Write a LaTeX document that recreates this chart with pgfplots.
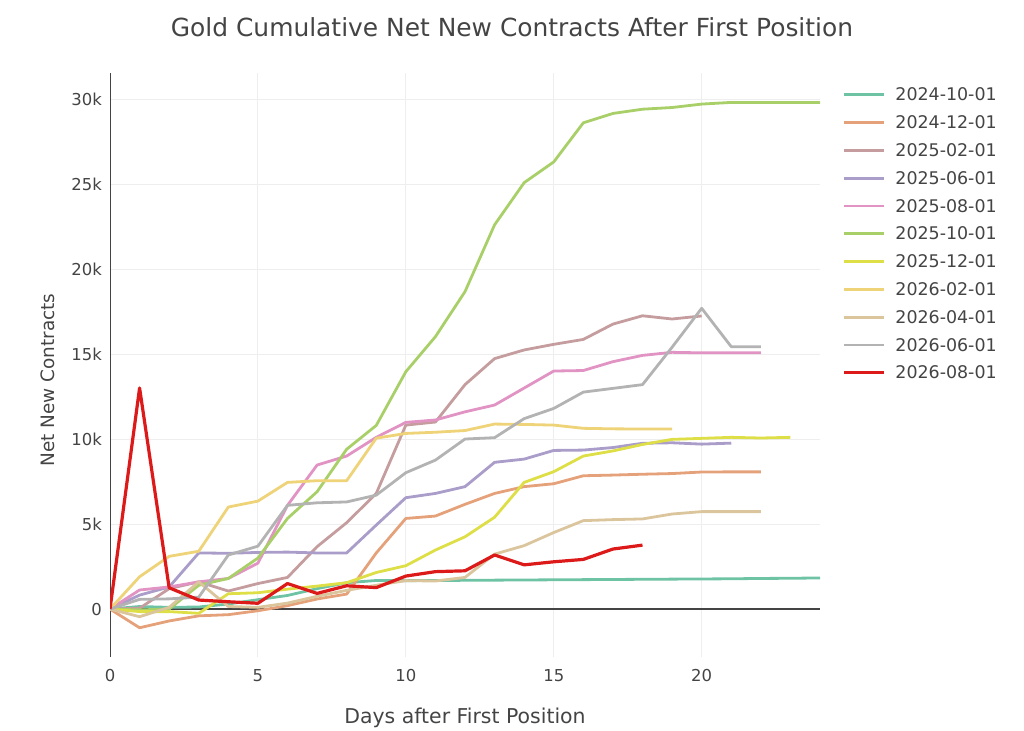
\documentclass[border=0pt]{standalone}
\usepackage{fontspec}
\setmainfont{DejaVu Sans}
\usepackage{pgfplots}
\pgfplotsset{compat=1.18}
\definecolor{txt}{HTML}{444444}
\definecolor{gridc}{HTML}{EEEEEE}
\definecolor{cA}{HTML}{6FC3A5}
\definecolor{cB}{HTML}{E5A179}
\definecolor{cC}{HTML}{C59D9E}
\definecolor{cD}{HTML}{AB9DC9}
\definecolor{cE}{HTML}{E194C3}
\definecolor{cF}{HTML}{A9CF69}
\definecolor{cG}{HTML}{DEDE47}
\definecolor{cH}{HTML}{EED378}
\definecolor{cI}{HTML}{DBC59D}
\definecolor{cJ}{HTML}{B3B3B3}
\definecolor{cK}{HTML}{DD1A1A}
\begin{document}
\begin{tikzpicture}[x=1bp,y=1bp]
\path[use as bounding box] (0bp,0bp) rectangle (1024bp,731bp);
\begin{axis}[
  at={(110bp,74bp)}, anchor=south west,
  width=710bp, height=584bp, scale only axis,
  xmin=0, xmax=24, ymin=-2820, ymax=31530,
  xtick={0,5,10,15,20},
  ytick={0,5000,10000,15000,20000,25000,30000},
  yticklabels={0,5k,10k,15k,20k,25k,30k},
  scaled y ticks=false,
  extra y ticks={0}, extra y tick labels={},
  extra y tick style={grid=major, major grid style={draw=txt, line width=1.3bp}},
  grid=major, major grid style={draw=gridc, line width=1bp},
  axis x line*=bottom, axis y line*=left, axis line style={-},
  x axis line style={draw=none},
  y axis line style={draw=txt, line width=1bp},
  tick style={draw=none},
  /pgf/number format/assume math mode=true,
  ticklabel style={font=\fontsize{16.5}{19}\selectfont, text=txt, inner sep=0pt},
  xticklabel style={anchor=north, yshift=-12bp},
  yticklabel style={anchor=east, xshift=-8bp},
  every axis plot/.append style={line width=2.8bp, line join=round},
  legend style={at={(axis description cs:1.031,0.974)}, anchor=north west,
    draw=none, fill=none, inner sep=0pt,
    font=\fontsize{17.5}{20}\selectfont, text=txt,
    nodes={inner sep=0pt, text height=12.5bp, text depth=3bp, anchor=base west},
    row sep=12.3bp,
    /tikz/every odd column/.append style={column sep=10bp}},
  legend cell align=left,
  legend image code/.code={\draw[#1] (0bp,6bp) -- (40bp,6bp);},
]
\addplot[cA] coordinates {(0,0)(1,150)(2,100)(3,120)(4,300)(5,550)(6,800)(7,1200)(8,1550)(9,1680)(10,1670)(11,1680)(12,1690)(13,1700)(14,1710)(15,1720)(16,1730)(17,1740)(18,1750)(19,1760)(20,1770)(21,1780)(22,1800)(23,1810)(24,1830)};
\addlegendentry{2024-10-01}
\addplot[cB] coordinates {(0,0)(1,-1100)(2,-700)(3,-400)(4,-330)(5,-100)(6,200)(7,590)(8,880)(9,3300)(10,5330)(11,5470)(12,6160)(13,6800)(14,7200)(15,7370)(16,7840)(17,7880)(18,7930)(19,7970)(20,8060)(21,8070)(22,8070)};
\addlegendentry{2024-12-01}
\addplot[cC] coordinates {(0,0)(1,50)(2,1200)(3,1600)(4,1060)(5,1500)(6,1860)(7,3670)(8,5080)(9,6800)(10,10820)(11,11000)(12,13200)(13,14730)(14,15240)(15,15570)(16,15860)(17,16760)(18,17250)(19,17060)(20,17240)};
\addlegendentry{2025-02-01}
\addplot[cD] coordinates {(0,0)(1,820)(2,1300)(3,3300)(4,3280)(5,3330)(6,3350)(7,3300)(8,3300)(9,4940)(10,6550)(11,6800)(12,7200)(13,8630)(14,8820)(15,9330)(16,9350)(17,9500)(18,9750)(19,9780)(20,9700)(21,9760)};
\addlegendentry{2025-06-01}
\addplot[cE] coordinates {(0,0)(1,1120)(2,1300)(3,1600)(4,1800)(5,2700)(6,6100)(7,8470)(8,9000)(9,10100)(10,10980)(11,11120)(12,11600)(13,12000)(14,13000)(15,14000)(16,14030)(17,14550)(18,14920)(19,15100)(20,15070)(21,15070)(22,15070)};
\addlegendentry{2025-08-01}
\addplot[cF] coordinates {(0,0)(1,-50)(2,0)(3,1400)(4,1800)(5,3000)(6,5330)(7,6900)(8,9400)(9,10800)(10,13960)(11,16020)(12,18670)(13,22600)(14,25080)(15,26300)(16,28600)(17,29150)(18,29400)(19,29500)(20,29700)(21,29800)(22,29800)(23,29800)(24,29800)};
\addlegendentry{2025-10-01}
\addplot[cG] coordinates {(0,0)(1,-150)(2,-150)(3,-250)(4,900)(5,960)(6,1170)(7,1350)(8,1550)(9,2150)(10,2550)(11,3470)(12,4250)(13,5400)(14,7450)(15,8080)(16,9000)(17,9300)(18,9680)(19,9980)(20,10040)(21,10100)(22,10060)(23,10100)};
\addlegendentry{2025-12-01}
\addplot[cH] coordinates {(0,0)(1,1900)(2,3100)(3,3400)(4,6000)(5,6350)(6,7450)(7,7550)(8,7550)(9,10050)(10,10330)(11,10400)(12,10500)(13,10880)(14,10860)(15,10820)(16,10630)(17,10600)(18,10590)(19,10590)};
\addlegendentry{2026-02-01}
\addplot[cI] coordinates {(0,0)(1,-450)(2,100)(3,1600)(4,150)(5,100)(6,350)(7,750)(8,1100)(9,1400)(10,1670)(11,1650)(12,1860)(13,3230)(14,3730)(15,4500)(16,5200)(17,5260)(18,5300)(19,5590)(20,5730)(21,5730)(22,5730)};
\addlegendentry{2026-04-01}
\addplot[cJ] coordinates {(0,0)(1,570)(2,600)(3,700)(4,3180)(5,3700)(6,6100)(7,6250)(8,6300)(9,6700)(10,8020)(11,8760)(12,10000)(13,10080)(14,11200)(15,11800)(16,12760)(17,12980)(18,13200)(19,15400)(20,17690)(21,15430)(22,15430)};
\addlegendentry{2026-06-01}
\addplot[cK, line width=3.2bp] coordinates {(0,0)(1,13000)(2,1250)(3,530)(4,430)(5,340)(6,1500)(7,920)(8,1370)(9,1260)(10,1940)(11,2200)(12,2250)(13,3180)(14,2600)(15,2780)(16,2920)(17,3530)(18,3760)};
\addlegendentry{2026-08-01}
\end{axis}
\node[text=txt, font=\fontsize{25}{29}\selectfont, inner sep=0pt] at (512bp,704bp) {Gold Cumulative Net New Contracts After First Position};
\node[text=txt, font=\fontsize{18.5}{22}\selectfont, inner sep=0pt, rotate=90] at (48bp,351bp) {Net New Contracts};
\node[text=txt, font=\fontsize{20.5}{24}\selectfont, inner sep=0pt] at (465bp,13bp) {Days after First Position};
\end{tikzpicture}
\end{document}
